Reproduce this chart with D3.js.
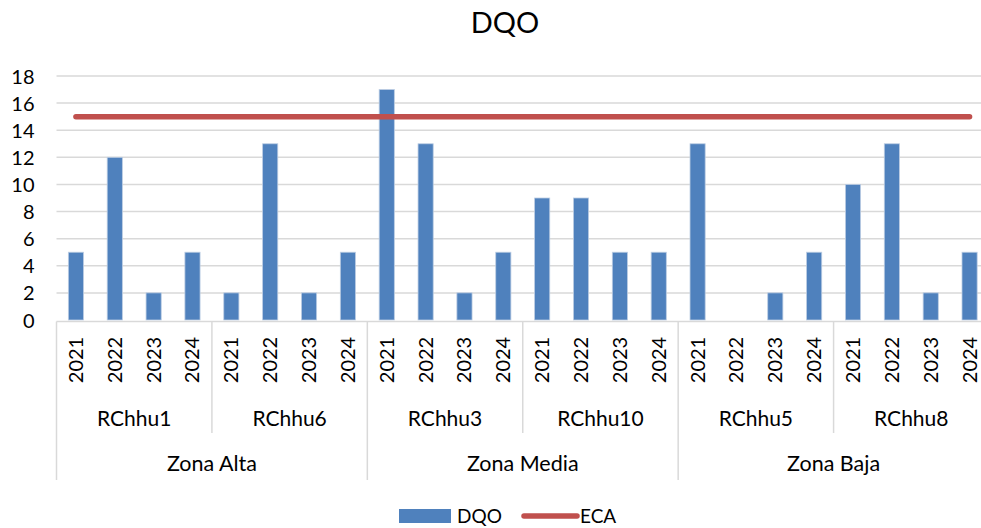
<!DOCTYPE html>
<html>
<head>
<meta charset="utf-8">
<script src="https://cdn.jsdelivr.net/npm/d3@7"></script>
<style>
  html, body { margin: 0; padding: 0; background: #fff; }
  svg { display: block; font-family: Lato, "Open Sans", sans-serif; }
</style>
</head>
<body>
<svg id="chart" width="981" height="528"></svg>
<script>
// Sampling points, years and zones
const zones = ["Zona Alta", "Zona Media", "Zona Baja"];
const stations = ["RChhu1", "RChhu6", "RChhu3", "RChhu10", "RChhu5", "RChhu8"];
const stationZone = ["Zona Alta", "Zona Alta", "Zona Media", "Zona Media", "Zona Baja", "Zona Baja"];
const years = ["2021", "2022", "2023", "2024"];

// DQO per station, one value per year
const dqoRChhu1 = [5, 12, 2, 5];
const dqoRChhu6 = [2, 13, 2, 5];
const dqoRChhu3 = [17, 13, 2, 5];
const dqoRChhu10 = [9, 9, 5, 5];
const dqoRChhu5 = [13, 0, 2, 5];
const dqoRChhu8 = [10, 13, 2, 5];
const dqoSeries = [dqoRChhu1, dqoRChhu6, dqoRChhu3, dqoRChhu10, dqoRChhu5, dqoRChhu8];

// Standard (ECA) limit
const ecaLimit = 15;
const yTicks = [0, 2, 4, 6, 8, 10, 12, 14, 16, 18];

// Flattened rows
const rows = [];
stations.forEach((s, i) => {
  years.forEach((yr, j) => {
    rows.push({ key: s + "|" + yr, station: s, zone: stationZone[i], year: yr, value: dqoSeries[i][j] });
  });
});

const svg = d3.select("#chart");
const plotLeft = 56.5, plotRight = 989, plotTop = 76, plotBottom = 320;

const x = d3.scaleBand().domain(rows.map(d => d.key)).range([plotLeft, plotRight]).paddingInner(0.61).paddingOuter(0.305);
const xOuter = d3.scaleBand().domain(rows.map(d => d.key)).range([plotLeft, plotRight]);
const y = d3.scaleLinear().domain([0, 18]).range([plotBottom, plotTop]);

// Gridlines
svg.append("g").selectAll("line").data(yTicks.filter(t => t > 0)).join("line")
  .attr("x1", plotLeft).attr("x2", 981)
  .attr("y1", d => y(d)).attr("y2", d => y(d))
  .attr("stroke", "#d9d9d9").attr("stroke-width", 1.5);

// Y axis labels
const yAxis = svg.append("g").attr("transform", `translate(${plotLeft - 22},0)`)
  .call(d3.axisLeft(y).tickValues(yTicks).tickSize(0).tickPadding(0));
yAxis.select(".domain").remove();
yAxis.selectAll("text").attr("font-size", 20).attr("fill", "#000").attr("font-family", "Lato, sans-serif")
  .attr("dy", "0.35em");

// Bars
svg.append("g").selectAll("rect").data(rows).join("rect")
  .attr("x", d => x(d.key))
  .attr("width", x.bandwidth())
  .attr("y", d => y(d.value))
  .attr("height", d => y(0) - y(d.value))
  .attr("fill", "#4f81bd")
  .attr("stroke", "#bccde3").attr("stroke-width", 0.8);

// ECA line from the first to the last category centre
const first = rows[0].key, last = rows[rows.length - 1].key;
svg.append("line")
  .attr("x1", xOuter(first) + xOuter.bandwidth() / 2)
  .attr("x2", xOuter(last) + xOuter.bandwidth() / 2)
  .attr("y1", y(ecaLimit)).attr("y2", y(ecaLimit))
  .attr("stroke", "#c0504d").attr("stroke-width", 5.5).attr("stroke-linecap", "round");

// Multi-level category axis
const axisG = svg.append("g");
const lineColor = "#d9d9d9";
axisG.append("line").attr("x1", plotLeft).attr("x2", 981).attr("y1", plotBottom + 1.5).attr("y2", plotBottom + 1.5)
  .attr("stroke", lineColor).attr("stroke-width", 1.5);

// Year labels (rotated)
axisG.selectAll("text.year").data(rows).join("text")
  .attr("class", "year")
  .attr("transform", d => `translate(${xOuter(d.key) + xOuter.bandwidth() / 2 + 7},360) rotate(-90)`)
  .attr("text-anchor", "middle")
  .attr("font-size", 20).attr("fill", "#000")
  .text(d => d.year);

// Station labels
const stationBounds = stations.map(s => {
  const ks = rows.filter(r => r.station === s).map(r => r.key);
  return { name: s, x0: xOuter(ks[0]), x1: xOuter(ks[ks.length - 1]) + xOuter.bandwidth() };
});
axisG.selectAll("text.station").data(stationBounds).join("text")
  .attr("class", "station")
  .attr("x", d => (d.x0 + d.x1) / 2).attr("y", 426)
  .attr("text-anchor", "middle").attr("font-size", 21).attr("fill", "#000")
  .text(d => d.name);

// Zone labels
const zoneBounds = zones.map(z => {
  const ks = rows.filter(r => r.zone === z).map(r => r.key);
  return { name: z, x0: xOuter(ks[0]), x1: xOuter(ks[ks.length - 1]) + xOuter.bandwidth() };
});
axisG.selectAll("text.zone").data(zoneBounds).join("text")
  .attr("class", "zone")
  .attr("x", d => (d.x0 + d.x1) / 2).attr("y", 471)
  .attr("text-anchor", "middle").attr("font-size", 21.5).attr("fill", "#000")
  .text(d => d.name);

// Station boundaries inside a zone stop at the station row; zone boundaries go down further
const zoneEdges = new Set(zoneBounds.map(d => Math.round(d.x0)));
const stationEdges = stationBounds.map(d => d.x0).filter(v => !zoneEdges.has(Math.round(v)));
axisG.selectAll("line.sdiv").data(stationEdges).join("line")
  .attr("class", "sdiv")
  .attr("x1", d => d).attr("x2", d => d).attr("y1", plotBottom + 1.5).attr("y2", 433)
  .attr("stroke", lineColor).attr("stroke-width", 1.5);
axisG.selectAll("line.zdiv").data(zoneBounds.map(d => d.x0)).join("line")
  .attr("class", "zdiv")
  .attr("x1", d => d).attr("x2", d => d).attr("y1", plotBottom + 1.5).attr("y2", 480)
  .attr("stroke", lineColor).attr("stroke-width", 1.5);

// Title
svg.append("text").attr("x", 505).attr("y", 33).attr("text-anchor", "middle")
  .attr("font-size", 29).attr("fill", "#000").text("DQO");

// Legend
const lg = svg.append("g");
lg.append("rect").attr("x", 399).attr("y", 509).attr("width", 52).attr("height", 14).attr("fill", "#4f81bd");
lg.append("text").attr("x", 457).attr("y", 523).attr("font-size", 19).attr("fill", "#000").text("DQO");
lg.append("line").attr("x1", 524).attr("x2", 577).attr("y1", 516).attr("y2", 516)
  .attr("stroke", "#c0504d").attr("stroke-width", 5.5).attr("stroke-linecap", "round");
lg.append("text").attr("x", 580).attr("y", 523).attr("font-size", 19).attr("fill", "#000").text("ECA");
</script>
</body>
</html>
